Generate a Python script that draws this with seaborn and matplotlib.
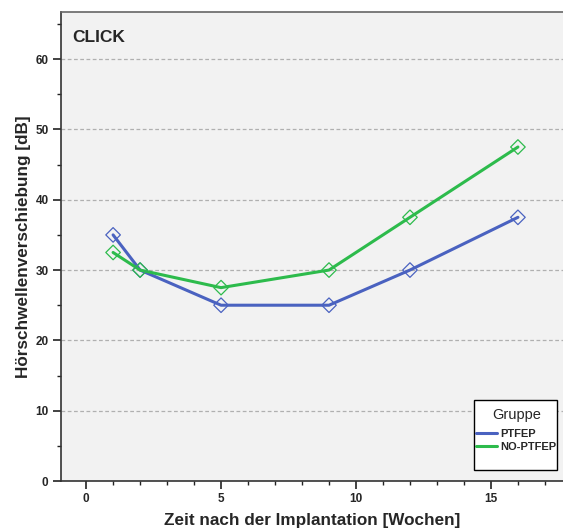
import matplotlib
matplotlib.use("Agg")
import matplotlib.pyplot as plt
import seaborn as sns
import pandas as pd
from matplotlib.ticker import MultipleLocator
from matplotlib.lines import Line2D
from matplotlib.patches import Rectangle

weeks = [1, 2, 5, 9, 12, 16]
ptfep = [35, 30, 25, 25, 30, 37.5]
no_ptfep = [32.5, 30, 27.5, 30, 37.5, 47.5]
groups = ["PTFEP", "NO-PTFEP"]

df = pd.DataFrame({
    "week": weeks * 2,
    "shift": ptfep + no_ptfep,
    "group": [groups[0]] * len(weeks) + [groups[1]] * len(weeks),
})

sns.set_style("ticks")
plt.rcParams["font.family"] = ["Liberation Sans", "DejaVu Sans"]

W, H = 563, 529
fig = plt.figure(figsize=(W / 100, H / 100), dpi=100)
ax = fig.add_axes([61/W, 48/H, 1 - 61/W, (481-12)/H])
ax.set_facecolor("#f2f2f2")

palette = {"PTFEP": "#4a62c0", "NO-PTFEP": "#2dbb4c"}
sns.lineplot(data=df, x="week", y="shift", hue="group", palette=palette,
             linewidth=2.2, ax=ax, legend=False, zorder=3)
for g in groups:
    sub = df[df.group == g]
    ax.scatter(sub["week"], sub["shift"], marker="D", s=55,
               facecolors="none", edgecolors=palette[g], linewidths=0.9, zorder=4)

ax.set_xlim(-0.93, 17.67)
ax.set_ylim(0, 66.7)
ax.xaxis.set_major_locator(MultipleLocator(5))
ax.xaxis.set_minor_locator(MultipleLocator(1))
ax.yaxis.set_major_locator(MultipleLocator(10))
ax.yaxis.set_minor_locator(MultipleLocator(5))
ax.tick_params(axis="both", which="major", length=6, width=1.2, labelsize=8.5,
               color="#222222", pad=3)
ax.tick_params(axis="both", which="minor", length=3, width=1.0, color="#222222")
for lab in ax.get_xticklabels() + ax.get_yticklabels():
    lab.set_fontweight("bold")

for y in [10, 20, 30, 40, 50, 60]:
    ax.axhline(y, color="#b0b0b0", linestyle=(0, (3, 2)), linewidth=0.9, zorder=1)

for s in ["left", "bottom"]:
    ax.spines[s].set_color("#333333")
    ax.spines[s].set_linewidth(1.2)
ax.spines["top"].set_color("#666666")
ax.spines["top"].set_linewidth(1.2)
ax.spines["right"].set_visible(False)

ax.set_xlabel("Zeit nach der Implantation [Wochen]", fontsize=12.3, fontweight="bold")
ax.set_ylabel("Hörschwellenverschiebung [dB]", fontsize=12.3, fontweight="bold")
ax.xaxis.set_label_coords((312 - 61) / 502, (481 - 513) / 469)
ax.yaxis.set_label_coords((31 - 61) / 502, 0.5)

ax.text(0.022, 0.962, "CLICK", transform=ax.transAxes, fontsize=12.5,
        fontweight="bold", va="top", ha="left")

# legend
handles = [Line2D([0], [0], color=palette[g], linewidth=2.2) for g in groups]
leg = ax.legend(handles, groups, title="Gruppe", loc="upper left",
                bbox_to_anchor=((474 - 61 + 2) / 502, (481 - 408) / 469),
                frameon=False, handlelength=1.85, handletextpad=0.35,
                borderpad=0.0, labelspacing=0.3, borderaxespad=0,
                prop={"size": 8, "weight": "bold"}, title_fontsize=10.5)
leg._legend_box.sep = 5
leg._legend_box.align = "center"
rect = Rectangle(((474 - 61) / 502, (481 - 470) / 469), (557 - 474) / 502, 70 / 469,
                 transform=ax.transAxes, facecolor="white", edgecolor="black",
                 linewidth=1.0, zorder=5)
ax.add_patch(rect)
leg.set_zorder(6)

fig.savefig("out.png", dpi=100)
